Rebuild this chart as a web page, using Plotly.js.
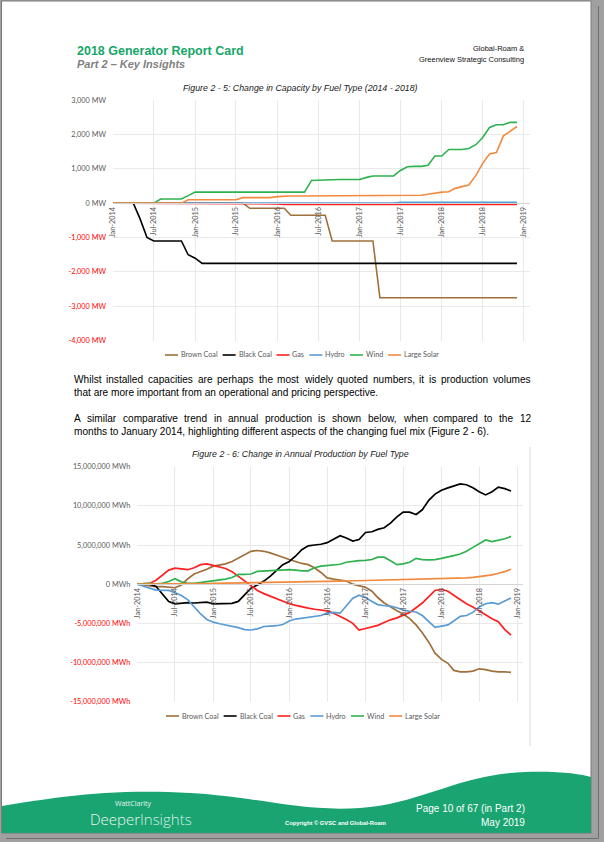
<!DOCTYPE html>
<html><head><meta charset="utf-8">
<script src="https://cdn.plot.ly/plotly-3.0.1.min.js"></script>
<style>html,body{margin:0;padding:0;background:#a0a0a0;}#chart{width:604px;height:842px;}</style>
</head><body><div id="chart"></div>
<script>
const W = 604, H = 842;
const fuelNames = ['Brown Coal', 'Black Coal', 'Gas', 'Hydro', 'Wind', 'Large Solar'];
const fuelColors = ['#A0703A', '#000000', '#FF1F1F', '#5B9BD5', '#2EB14F', '#F28A3E'];

// Figure 2-5: change in capacity (MW), monthly Jan-2014 .. Dec-2018
const capBrown = [0,0,0,0,0,0,0,0,0,0, 0,0,0,0,0,0,0,0,0,0, -150,-150,-150,-150,-150,-150,-350,-350,-350,-350,
  -350,-350,-1100,-1100,-1100,-1100,-1100,-1100,-1100,-2750, -2750,-2750,-2750,-2750,-2750,-2750,-2750,-2750,-2750,-2750,
  -2750,-2750,-2750,-2750,-2750,-2750,-2750,-2750,-2750,-2750];
const capBlack = [0,0,0,0,-450,-1000,-1100,-1100,-1100,-1100, -1100,-1500,-1600,-1750,-1750,-1750,-1750,-1750,-1750,-1750,
  -1750,-1750,-1750,-1750,-1750,-1750,-1750,-1750,-1750,-1750, -1750,-1750,-1750,-1750,-1750,-1750,-1750,-1750,-1750,-1750,
  -1750,-1750,-1750,-1750,-1750,-1750,-1750,-1750,-1750,-1750, -1750,-1750,-1750,-1750,-1750,-1750,-1750,-1750,-1750,-1750];
const capGas = [0,0,0,0,0,0,0,0,0,0, 0,0,0,0,0,0,0,0,0,0, 0,0,0,0,-20,-35,-35,-35,-35,-35,
  -35,-35,-35,-35,-35,-35,-35,-35,-35,-35, -35,-35,-35,-35,-35,-35,-35,-35,-35,-35, -35,-35,-35,-35,-35,-35,-35,-35,-35,-35];
const capHydro = [0,0,0,0,0,0,0,0,0,0, 0,0,0,0,0,0,0,0,0,0, 0,0,0,0,0,0,0,0,0,0,
  0,0,0,0,0,0,0,0,0,0, 0,0,25,25,25,25,25,25,25,25, 25,25,25,25,25,25,25,25,25,25];
const capWind = [0,0,0,0,0,0,0,120,120,120, 120,220,320,320,320,320,320,320,320,320, 320,320,320,320,320,320,320,320,320,660,
  660,660,680,690,690,690,690,750,790,790, 790,790,950,1060,1070,1070,1100,1370,1370,1560, 1560,1560,1590,1700,1900,2200,2280,2280,2350,2350];
const capSolar = [0,0,0,0,0,0,0,0,0,0, 0,100,100,100,100,100,100,100,100,160, 160,160,160,160,190,210,210,210,210,210,
  210,210,210,210,210,210,210,210,210,210, 210,210,215,220,225,230,260,300,320,330, 430,480,530,800,1150,1430,1470,1950,2080,2230];

// Figure 2-6: change in annual production (million MWh)
const prodBrown = [0,-0.1,-0.2,-0.3,-0.3,-0.4,-0.45,-0.1,0.7,1.3, 1.6,1.9,2.3,2.45,2.6,2.9,3.3,3.7,4.2,4.3,
  4.2,4.0,3.75,3.45,3.15,2.85,2.65,2.5,2.1,1.5, 0.8,0.65,0.55,0.4,0,-0.2,-0.4,-0.9,-1.7,-2.4,
  -2.9,-3.4,-3.8,-4.4,-5.2,-6.2,-7.4,-8.8,-9.6,-10.1, -11.0,-11.2,-11.2,-11.1,-10.8,-10.9,-11.1,-11.2,-11.2,-11.25];
const prodBlack = [0,0.05,0,-0.3,-1.2,-2.2,-2.5,-2.4,-2.35,-2.4, -2.35,-2.3,-2.5,-2.5,-2.5,-2.45,-2.2,-1.4,-0.5,-0.1,
  0.4,1.0,1.8,2.5,2.9,3.6,4.4,4.9,5.0,5.1, 5.3,5.8,6.2,5.9,5.5,5.7,6.6,6.7,7.0,7.2,
  7.8,8.6,9.2,9.2,8.9,9.5,10.7,11.5,12.0,12.3, 12.5,12.8,12.7,12.3,11.8,11.4,11.8,12.4,12.2,11.9];
const prodGas = [0,0.05,0.1,0.5,1.2,1.8,2.05,1.95,1.85,2.1, 2.5,2.6,2.4,2.2,2.0,1.6,1.0,0.4,-0.2,-0.8,
  -1.2,-1.5,-1.9,-2.2,-2.5,-2.7,-2.9,-3.05,-3.2,-3.35, -3.4,-3.7,-4.1,-4.5,-5.0,-5.85,-5.65,-5.45,-5.25,-4.9,
  -4.55,-4.3,-4.0,-3.6,-3.0,-2.4,-1.6,-0.8,-0.65,-0.9, -1.4,-2.0,-2.5,-2.9,-3.4,-3.9,-4.4,-4.8,-5.8,-6.5];
const prodHydro = [0,-0.3,-0.5,-0.75,-0.8,-0.8,-1.1,-1.45,-2.0,-2.9, -3.8,-4.5,-4.85,-5.05,-5.2,-5.4,-5.55,-5.8,-5.85,-5.7,
  -5.4,-5.35,-5.3,-5.15,-4.7,-4.45,-4.35,-4.3,-4.2,-4.0, -3.7,-3.6,-3.7,-2.7,-1.8,-1.4,-1.7,-2.2,-2.6,-2.75,
  -2.8,-3.0,-3.3,-3.45,-3.55,-4.0,-4.7,-5.5,-5.35,-5.2, -4.7,-4.1,-4.0,-3.6,-2.9,-2.5,-2.35,-2.55,-2.15,-1.75];
const prodWind = [0,0.1,0.1,0.05,0.1,0.35,0.7,0.3,0.1,0.1, 0.2,0.3,0.4,0.5,0.65,0.85,1.25,1.25,1.3,1.65,
  1.7,1.75,1.8,1.85,1.85,1.8,1.7,1.7,2.1,2.3, 2.4,2.45,2.55,2.8,2.95,3.0,3.05,3.15,3.45,3.45,
  3.0,2.5,2.6,2.8,3.3,3.15,3.1,3.15,3.3,3.45, 3.65,3.85,4.2,4.7,5.2,5.65,5.45,5.6,5.8,6.1];
const prodSolar = [0,0,0.02,0.03,0.03,0.04,0.05,0.06,0.06,0.07, 0.08,0.09,0.1,0.11,0.12,0.13,0.15,0.16,0.17,0.19,
  0.21,0.22,0.24,0.26,0.27,0.29,0.3,0.31,0.33,0.34, 0.35,0.37,0.39,0.41,0.43,0.44,0.45,0.46,0.47,0.48,
  0.5,0.52,0.53,0.55,0.57,0.59,0.62,0.65,0.68,0.7, 0.73,0.76,0.8,0.86,0.95,1.05,1.2,1.4,1.6,1.9];

const yTicks1 = [3000, 2000, 1000, 0, -1000, -2000, -3000, -4000];
const yTicks2 = [15e6, 10e6, 5e6, 0, -5e6, -10e6, -15e6];

const months = [];
for (let i = 0; i < 60; i++) {
  const yr = 2014 + Math.floor(i / 12), mo = i % 12 + 1;
  months.push(yr + '-' + String(mo).padStart(2, '0') + '-01');
}

const fx = x => x / W, fy = y => 1 - y / H;
const GRID = '#E4E4E4', TICKC = '#595959', NEG = '#FF0000';
const CF = 'Lato';

function tickText(vals, unit) {
  return vals.map(v => {
    const s = v.toLocaleString('en-US') + ' ' + unit;
    return v < 0 ? '<span style="color:' + NEG + '">' + s + '</span>' : s;
  });
}

const capSeries = [capBrown, capBlack, capGas, capHydro, capWind, capSolar];
const prodSeries = [prodBrown, prodBlack, prodGas, prodHydro, prodWind, prodSolar];
const traces = [];
capSeries.forEach((s, i) => traces.push({x: months, y: s, type: 'scatter', mode: 'lines', name: fuelNames[i],
  xaxis: 'x', yaxis: 'y', line: {color: fuelColors[i], width: 1.6}, showlegend: false, hoverinfo: 'skip'}));
prodSeries.forEach((s, i) => traces.push({x: months, y: s.map(v => v * 1e6), type: 'scatter', mode: 'lines', name: fuelNames[i],
  xaxis: 'x2', yaxis: 'y2', line: {color: fuelColors[i], width: 1.7}, showlegend: false, hoverinfo: 'skip'}));

// plot geometry (pixels)
const P1 = {l: 113, r: 530, t: 100, b: 340.7, ymin: -4000, ymax: 3000};
const P2 = {l: 137.3, r: 523.3, t: 466.7, b: 701.7, ymin: -15e6, ymax: 15e6};
function zeroPos(P) { const d0 = fy(P.b), d1 = fy(P.t); return d0 + (d1 - d0) * (0 - P.ymin) / (P.ymax - P.ymin); }

function xAxis(P, end) {
  return {domain: [fx(P.l), fx(P.r)], anchor: 'free', position: zeroPos(P), type: 'date',
    range: ['2014-01-01', end], tickformat: '%b-%Y', dtick: 'M6', tick0: '2014-01-01', tickangle: -90,
    tickfont: {family: CF, size: 7.3, color: TICKC}, showgrid: true, gridcolor: GRID, gridwidth: 0.8,
    showline: true, linecolor: '#D4D4D4', linewidth: 1, ticks: '', zeroline: false, automargin: false, fixedrange: true};
}
function yAxis(P, anchor, ticks, unit, standoff) {
  return {domain: [fy(P.b), fy(P.t)], anchor: anchor, range: [P.ymin, P.ymax], tickmode: 'array',
    tickvals: ticks, ticktext: tickText(ticks, unit), tickfont: {family: CF, size: 7.3, color: TICKC},
    showgrid: true, gridcolor: GRID, gridwidth: 0.8, zeroline: false, showline: false, ticks: '',
    ticklabelstandoff: standoff, automargin: false, fixedrange: true};
}

// text measuring for layout
const cv = document.createElement('canvas').getContext('2d');
function tw(text, size, family, style) { cv.font = (style || '') + ' ' + size + 'px "' + family + '"'; return cv.measureText(text).width; }

const annotations = [];
const shapes = [];
function txt(t, x, y, opt) {
  opt = opt || {};
  annotations.push({text: t, x: fx(x), y: fy(y), xref: 'paper', yref: 'paper', showarrow: false,
    xanchor: opt.xa || 'left', yanchor: 'middle', align: opt.xa || 'left',
    font: {family: opt.family || 'Liberation Sans', size: opt.size || 10, color: opt.color || '#000',
      style: opt.style || 'normal', weight: opt.weight || 'normal'}});
}

// page
shapes.push({type: 'rect', xref: 'paper', yref: 'paper', x0: fx(1.5), x1: fx(591), y0: fy(833), y1: fy(1),
  fillcolor: '#FFFFFF', line: {color: '#7A7A7A', width: 1}, layer: 'below'});
shapes.push({type: 'line', xref: 'paper', yref: 'paper', x0: fx(598.5), x1: fx(598.5), y0: fy(838), y1: fy(6),
  line: {color: '#6E6E6E', width: 1}, layer: 'below'});
shapes.push({type: 'line', xref: 'paper', yref: 'paper', x0: fx(6), x1: fx(598.5), y0: fy(838.5), y1: fy(838.5),
  line: {color: '#6E6E6E', width: 1}, layer: 'below'});

// footer wave
function pt(x, y) { return fx(x) + ',' + fy(y); }
const wave = 'M' + pt(2, 806) + ' C' + pt(50, 798) + ' ' + pt(110, 788) + ' ' + pt(190, 793) +
  ' C' + pt(260, 797) + ' ' + pt(300, 812) + ' ' + pt(360, 808) +
  ' C' + pt(420, 804) + ' ' + pt(460, 774) + ' ' + pt(525, 772) +
  ' C' + pt(560, 771) + ' ' + pt(580, 774) + ' ' + pt(591, 777) +
  ' L' + pt(591, 833) + ' L' + pt(2, 833) + ' Z';
shapes.push({type: 'path', xref: 'paper', yref: 'paper', path: wave, fillcolor: '#19A472', line: {width: 0}, layer: 'below'});

// chart 2 right border
shapes.push({type: 'line', xref: 'paper', yref: 'paper', x0: fx(530), x1: fx(530), y0: fy(746), y1: fy(447),
  line: {color: '#D9D9D9', width: 1}, layer: 'below'});

// header
txt('2018 Generator Report Card', 75, 51, {size: 12.5, color: '#16A766', weight: 'bold'});
txt('Part 2 – Key Insights', 75, 64.5, {size: 11, color: '#808080', weight: 'bold', style: 'italic'});
txt('Global-Roam &', 526, 48.5, {size: 7.5, xa: 'right', color: '#111'});
txt('Greenview Strategic Consulting', 526, 59.5, {size: 7.5, xa: 'right', color: '#111'});

// figure titles
txt('Figure 2 - 5: Change in Capacity by Fuel Type (2014 - 2018)', 300.5, 88, {size: 8.8, xa: 'center', style: 'italic', color: '#1a1a1a'});
txt('Figure 2 - 6: Change in Annual Production by Fuel Type', 300.5, 454.5, {size: 8.8, xa: 'center', style: 'italic', color: '#1a1a1a'});

// body text
const bodyFS = 10.1;
function justify(line, x0, x1, y) {
  const words = line.split(' ');
  const widths = words.map(w => tw(w, bodyFS, 'Liberation Sans'));
  const total = widths.reduce((a, b) => a + b, 0);
  const gap = (x1 - x0 - total) / (words.length - 1);
  let x = x0;
  words.forEach((w, i) => { txt(w, x, y, {size: bodyFS}); x += widths[i] + gap; });
}
justify('Whilst installed capacities are perhaps the most widely quoted numbers, it is production volumes', 72, 529, 379.5);
txt('that are more important from an operational and pricing perspective.', 72, 392.5, {size: bodyFS});
justify('A similar comparative trend in annual production is shown below, when compared to the 12', 72, 529, 418.5);
txt('months to January 2014, highlighting different aspects of the changing fuel mix (Figure 2 - 6).', 72, 431.5, {size: bodyFS});

// legends
const LFS = 7.2;
function legend(y, x0) {
  let x = x0;
  fuelNames.forEach((n, i) => {
    shapes.push({type: 'line', xref: 'paper', yref: 'paper', x0: fx(x), x1: fx(x + 13), y0: fy(y), y1: fy(y),
      line: {color: fuelColors[i], width: 1.6}});
    x += 14;
    txt(n, x, y, {size: LFS, family: CF, color: TICKC});
    x += tw(n, LFS, CF) + 7;
  });
}
legend(355, 165);
legend(716, 166);

// footer text
txt('WattClarity', 113, 803, {size: 7, color: '#E8F5EF', family: 'Open Sans'});
txt('Deeper', 88, 819, {size: 15, color: '#F2F2F2', family: 'Open Sans', weight: 300});
txt('Insights', 88 + tw('Deeper', 15, 'Open Sans', '300'), 819, {size: 15, color: '#D6EFE4', family: 'Open Sans', weight: 300});
txt('Copyright © GVSC and Global-Roam', 335, 823, {size: 5.8, xa: 'center', color: '#FFFFFF', weight: 'bold'});
txt('Page 10 of 67 (in Part 2)', 527, 808, {size: 10, xa: 'right', color: '#FFFFFF'});
txt('May 2019', 527, 822, {size: 10, xa: 'right', color: '#FFFFFF'});

const layout = {
  width: W, height: H, margin: {l: 0, r: 0, t: 0, b: 0}, paper_bgcolor: '#A0A0A0', plot_bgcolor: 'rgba(0,0,0,0)',
  showlegend: false,
  xaxis: xAxis(P1, '2019-01-28'), yaxis: yAxis(P1, 'x', yTicks1, 'MW', 6),
  xaxis2: xAxis(P2, '2019-01-29'), yaxis2: yAxis(P2, 'x2', yTicks2, 'MWh', 6),
  annotations: annotations, shapes: shapes
};
Plotly.newPlot('chart', traces, layout, {staticPlot: true, displayModeBar: false});
</script></body></html>
